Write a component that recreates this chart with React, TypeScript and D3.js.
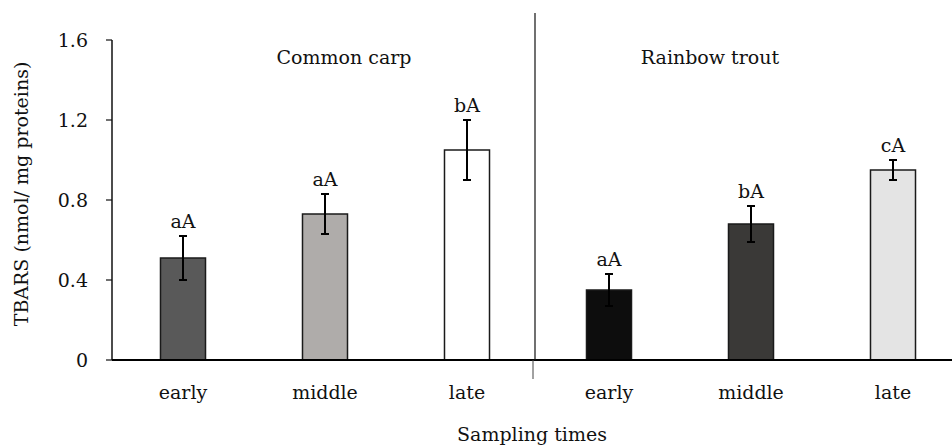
import { useEffect, useRef } from 'react';
import * as d3 from 'd3';

const groups = ['Common carp', 'Rainbow trout'];
const times = ['early', 'middle', 'late'];
const carpMeans = [0.51, 0.73, 1.05];
const carpErrors = [0.11, 0.1, 0.15];
const carpLetters = ['aA', 'aA', 'bA'];
const troutMeans = [0.35, 0.68, 0.95];
const troutErrors = [0.08, 0.09, 0.05];
const troutLetters = ['aA', 'bA', 'cA'];
const yTicks = [0, 0.4, 0.8, 1.2, 1.6];
const fills = ['#595959', '#afacaa', '#ffffff', '#0d0d0d', '#3a3937', '#e4e4e4'];

const FONT = '"DejaVu Serif", serif';

const App = () => {
  const svgRef = useRef<SVGSVGElement>(null);

  useEffect(() => {
    const svg = d3.select(svgRef.current).attr('width', 952).attr('height', 448);
    svg.selectAll('*').remove();

    const rows = [
      ...times.map((t, i) => ({ key: `cc-${t}`, group: 0, time: t, mean: carpMeans[i], err: carpErrors[i], letter: carpLetters[i] })),
      ...times.map((t, i) => ({ key: `rt-${t}`, group: 1, time: t, mean: troutMeans[i], err: troutErrors[i], letter: troutLetters[i] })),
    ];

    const left = 112;
    const x = d3
      .scaleBand()
      .domain(rows.map((d) => d.key))
      .range([left, 964])
      .paddingInner(0.683)
      .paddingOuter(0.3415);

    const y = d3.scaleLinear().domain([0, 1.6]).range([360, 40]);

    const g = svg.append('g').attr('font-family', FONT).attr('fill', '#111');

    // y axis
    g.append('line')
      .attr('x1', left)
      .attr('x2', left)
      .attr('y1', y(1.6))
      .attr('y2', y(0))
      .attr('stroke', '#111')
      .attr('stroke-width', 1.5);

    g.selectAll('.ytick')
      .data(yTicks)
      .enter()
      .append('line')
      .attr('x1', left - 6)
      .attr('x2', left)
      .attr('y1', (d) => y(d))
      .attr('y2', (d) => y(d))
      .attr('stroke', '#111')
      .attr('stroke-width', 1.2);

    g.selectAll('.ylabel')
      .data(yTicks)
      .enter()
      .append('text')
      .attr('x', 88)
      .attr('y', (d) => y(d) + 7)
      .attr('text-anchor', 'end')
      .attr('font-size', 19)
      .text((d) => (d === 0 ? '0' : d3.format('.1f')(d)));

    g.append('text')
      .attr('transform', `translate(28,${(y(0) + y(1.6)) / 2 - 6}) rotate(-90)`)
      .attr('text-anchor', 'middle')
      .attr('font-size', 19)
      .text('TBARS (nmol/ mg proteins)');

    // bars
    g.selectAll('.bar')
      .data(rows)
      .enter()
      .append('rect')
      .attr('x', (d) => x(d.key)!)
      .attr('y', (d) => y(d.mean))
      .attr('width', x.bandwidth())
      .attr('height', (d) => y(0) - y(d.mean))
      .attr('fill', (_, i) => fills[i])
      .attr('stroke', '#1a1a1a')
      .attr('stroke-width', 1.5);

    // error bars
    const eb = g.selectAll('.err').data(rows).enter().append('g');
    const cx = (d) => x(d.key)! + x.bandwidth() / 2;
    eb.append('line')
      .attr('x1', cx)
      .attr('x2', cx)
      .attr('y1', (d) => y(d.mean + d.err))
      .attr('y2', (d) => y(d.mean - d.err))
      .attr('stroke', '#000')
      .attr('stroke-width', 2);
    [1, -1].forEach((s) => {
      eb.append('line')
        .attr('x1', (d) => cx(d) - 4)
        .attr('x2', (d) => cx(d) + 4)
        .attr('y1', (d) => y(d.mean + s * d.err))
        .attr('y2', (d) => y(d.mean + s * d.err))
        .attr('stroke', '#000')
        .attr('stroke-width', 2);
    });

    g.selectAll('.letter')
      .data(rows)
      .enter()
      .append('text')
      .attr('x', cx)
      .attr('y', (d) => y(d.mean + d.err) - 8)
      .attr('text-anchor', 'middle')
      .attr('font-size', 19)
      .text((d) => d.letter);

    // x axis
    g.append('line')
      .attr('x1', left)
      .attr('x2', 952)
      .attr('y1', y(0))
      .attr('y2', y(0))
      .attr('stroke', '#000')
      .attr('stroke-width', 2);

    g.selectAll('.xlabel')
      .data(rows)
      .enter()
      .append('text')
      .attr('x', cx)
      .attr('y', 399)
      .attr('text-anchor', 'middle')
      .attr('font-size', 19)
      .text((d) => d.time);

    // divider between species
    const divX = (x(rows[2].key)! + x.bandwidth() + x(rows[3].key)!) / 2 - 3;
    g.append('line')
      .attr('x1', divX)
      .attr('x2', divX)
      .attr('y1', 13)
      .attr('y2', y(0))
      .attr('stroke', '#111')
      .attr('stroke-width', 1.2);
    g.append('line')
      .attr('x1', divX - 2)
      .attr('x2', divX - 2)
      .attr('y1', y(0))
      .attr('y2', 379)
      .attr('stroke', '#444')
      .attr('stroke-width', 1);

    // species titles
    const titleX = [344, 710];
    g.selectAll('.title')
      .data(groups)
      .enter()
      .append('text')
      .attr('x', (_, i) => titleX[i])
      .attr('y', 64)
      .attr('text-anchor', 'middle')
      .attr('font-size', 19)
      .text((d) => d);

    g.append('text')
      .attr('x', 532)
      .attr('y', 441)
      .attr('text-anchor', 'middle')
      .attr('font-size', 19)
      .text('Sampling times');
  }, []);

  return <svg ref={svgRef} style={{ position: 'absolute', left: 0, top: 0 }}></svg>;
};

export default App;
